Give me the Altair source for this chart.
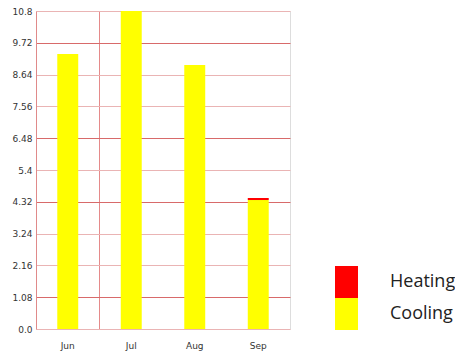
import altair as alt
import pandas as pd

# Monthly loads
months = ["Jun", "Jul", "Aug", "Sep"]
cooling = [9.34, 10.8, 8.97, 4.38]
heating = [0.0, 0.0, 0.0, 0.07]

series_names = ["Heating", "Cooling"]
series_colors = ["#ff0000", "#ffff00"]
y_ticks = [0.0, 1.08, 2.16, 3.24, 4.32, 5.4, 6.48, 7.56, 8.64, 9.72, 10.8]
strong_ticks = [1.08, 4.32, 6.48, 9.72]

rows = []
for m, c, h in zip(months, cooling, heating):
    rows.append({"month": m, "series": "Cooling", "value": c, "rank": 0})
    rows.append({"month": m, "series": "Heating", "value": h, "rank": 1})
df = pd.DataFrame(rows)

strong_test = " || ".join(f"abs(datum.value - {t}) < 0.001" for t in strong_ticks)

bars = alt.Chart(df).mark_bar().encode(
    x=alt.X(
        "month:N",
        sort=months,
        title=None,
        scale=alt.Scale(paddingInner=0.67, paddingOuter=0.335),
        axis=alt.Axis(
            labelAngle=0,
            labelFontSize=9,
            labelFont="DejaVu Sans",
            labelColor="#333333",
            labelPadding=12,
            ticks=False,
            domain=False,
            grid=True,
            # divider drawn at the Jun/Jul step boundary
            bandPosition=2.015,
            gridColor="#e58a8a",
            gridOpacity={
                "condition": {"test": "datum.value == 'Jun'", "value": 1},
                "value": 0,
            },
        ),
    ),
    y=alt.Y(
        "value:Q",
        stack="zero",
        title=None,
        scale=alt.Scale(domain=[0, 10.8], nice=False, zero=True),
        axis=alt.Axis(
            values=y_ticks,
            labelExpr="datum.value == 0 ? '0.0' : format(datum.value, '.3~g')",
            labelFontSize=9,
            labelFont="DejaVu Sans",
            labelColor="#333333",
            labelPadding=4,
            ticks=False,
            domain=True,
            domainColor="#e08a8a",
            grid=True,
            gridColor={
                "condition": {"test": strong_test, "value": "#d86a6a"},
                "value": "#eab4b4",
            },
        ),
    ),
    color=alt.Color(
        "series:N",
        scale=alt.Scale(domain=series_names, range=series_colors),
        legend=alt.Legend(
            title=None,
            orient="none",
            legendX=294.5,
            legendY=255,
            symbolType="M-0.72,-1H0.72V1H-0.72Z",
            symbolSize=1024,
            symbolStrokeWidth=0,
            rowPadding=0,
            labelFont="Open Sans",
            labelFontSize=18,
            labelColor="#222222",
            labelOffset=27.5,
            labelLimit=200,
            padding=0,
        ),
    ),
    order=alt.Order("rank:Q"),
)

chart = bars.properties(
    width=254,
    height=318,
    autosize=alt.AutoSizeParams(type="none"),
    padding={"left": 36, "top": 11, "right": 165, "bottom": 29},
).configure_view(stroke=None).configure(background="white")

chart.save("out.html", embed_options={"renderer": "svg", "actions": False})
